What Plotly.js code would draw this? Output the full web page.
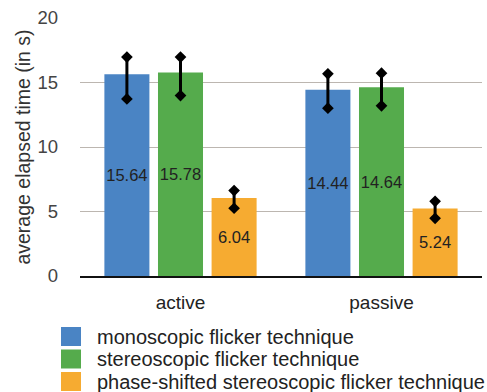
<!DOCTYPE html>
<html>
<head>
<meta charset="utf-8">
<script src="https://cdn.plot.ly/plotly-3.0.1.min.js"></script>
<style>
html,body{margin:0;padding:0;background:#fff;}
#chart{width:487px;height:392px;}
</style>
</head>
<body>
<div id="chart"></div>
<script>
var categories = ['active', 'passive'];
var seriesNames = ['monoscopic flicker technique', 'stereoscopic flicker technique', 'phase-shifted stereoscopic flicker technique'];
var monoValues = [15.64, 14.44];
var stereoValues = [15.78, 14.64];
var phaseValues = [6.04, 5.24];
var monoErrPlus = [1.33, 1.23];
var monoErrMinus = [1.91, 1.43];
var stereoErrPlus = [1.19, 1.08];
var stereoErrMinus = [1.79, 1.45];
var phaseErrPlus = [0.58, 0.55];
var phaseErrMinus = [0.79, 0.77];
var yTickVals = [0, 5, 10, 15, 20];

var colors = ['#4a84c4', '#55ab4c', '#f6ab31'];
var FONT = 'Helvetica, Arial, "Liberation Sans", sans-serif';

var series = [
  {name: seriesNames[0], y: monoValues, plus: monoErrPlus, minus: monoErrMinus},
  {name: seriesNames[1], y: stereoValues, plus: stereoErrPlus, minus: stereoErrMinus},
  {name: seriesNames[2], y: phaseValues, plus: phaseErrPlus, minus: phaseErrMinus}
];

var traces = [];
series.forEach(function (s, i) {
  traces.push({
    type: 'bar',
    name: s.name,
    x: categories,
    y: s.y,
    offsetgroup: 'g' + i,
    alignmentgroup: 'a',
    marker: {color: colors[i], line: {width: 0}},
    text: s.y.map(function (v) { return v.toFixed(2); }),
    textposition: 'inside',
    insidetextanchor: 'middle',
    constraintext: 'none',
    textangle: 0,
    textfont: {family: FONT, size: 16.5, color: '#222'},
    error_y: {type: 'data', symmetric: false, array: s.plus, arrayminus: s.minus,
              color: '#000', thickness: 3, width: 0},
    showlegend: false,
    hoverinfo: 'skip'
  });
});
// diamond end markers of the error bars
series.forEach(function (s, i) {
  var xs = [], ys = [];
  categories.forEach(function (c, k) {
    xs.push(c, c);
    ys.push(s.y[k] + s.plus[k], s.y[k] - s.minus[k]);
  });
  traces.push({
    type: 'scatter',
    mode: 'markers',
    x: xs,
    y: ys,
    offsetgroup: 'g' + i,
    alignmentgroup: 'a',
    marker: {symbol: 'diamond', size: 9, color: '#000'},
    showlegend: false,
    hoverinfo: 'skip'
  });
});

var W = 487, H = 392;
var M = {l: 80, r: 5, t: 18, b: 116};
var pw = W - M.l - M.r, ph = H - M.t - M.b;
function px(xp) { return (xp - M.l) / pw; }
function py(yp) { return (M.t + ph - yp) / ph; }

var shapes = [], annotations = [];
var rowCenters = [336.5, 359, 381.5];
seriesNames.forEach(function (n, i) {
  shapes.push({type: 'rect', xref: 'paper', yref: 'paper',
    x0: px(61), x1: px(81), y0: py(rowCenters[i] + 9.5), y1: py(rowCenters[i] - 9.5),
    fillcolor: colors[i], line: {width: 0}});
  annotations.push({xref: 'paper', yref: 'paper', x: px(95), y: py(rowCenters[i]),
    xanchor: 'left', yanchor: 'middle', showarrow: false, text: n,
    font: {family: FONT, size: 20, color: '#222'}});
});

var layout = {
  width: W, height: H,
  margin: M,
  paper_bgcolor: '#fff', plot_bgcolor: '#fff',
  barmode: 'group',
  scattermode: 'group',
  bargap: 0.2,
  bargroupgap: 0.16,
  scattergap: 0.2,
  showlegend: false,
  font: {family: FONT, color: '#333'},
  xaxis: {
    type: 'category',
    range: [-0.5, 1.5],
    showgrid: false,
    showline: true, linecolor: '#111', linewidth: 2,
    ticks: '', ticklabelstandoff: 8,
    tickfont: {family: FONT, size: 19, color: '#222'}
  },
  yaxis: {
    range: [0, 20],
    tickvals: yTickVals,
    showgrid: true, gridcolor: '#bcb6b0', gridwidth: 1,
    zeroline: false, showline: false,
    ticks: '', ticklabelstandoff: 21,
    tickfont: {family: FONT, size: 18.5, color: '#444'},
    title: {text: 'average elapsed time (in s)', standoff: 1,
            font: {family: FONT, size: 19.5, color: '#333'}}
  },
  shapes: shapes,
  annotations: annotations
};

Plotly.newPlot('chart', traces, layout, {staticPlot: true, displayModeBar: false});
</script>
</body>
</html>
